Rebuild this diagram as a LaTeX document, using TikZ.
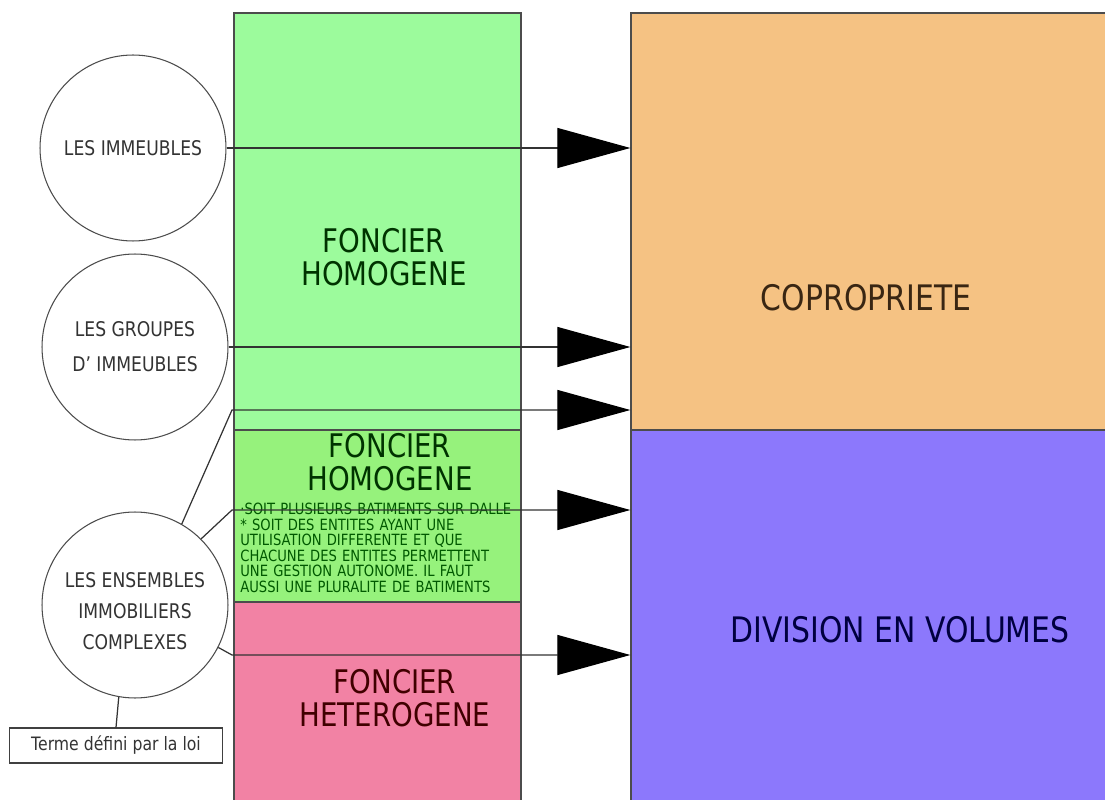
\documentclass[tikz,border=0pt]{standalone}
\usepackage{fontspec}
\setmainfont{DejaVu Sans}[FakeStretch=0.85]
\usetikzlibrary{arrows.meta, positioning, shapes.geometric}

\definecolor{homo}{HTML}{9CFB9C}
\definecolor{homobis}{HTML}{96F27C}
\definecolor{hetero}{HTML}{F282A4}
\definecolor{copro}{HTML}{F5C283}
\definecolor{volumes}{HTML}{8C78FC}

\tikzset{
  bloc/.style={draw=black!70, line width=0.8pt, rectangle, minimum width=5.74cm, inner sep=0pt},
  cercle/.style={draw=black!70, line width=0.6pt, circle, minimum size=3.72cm, inner sep=0pt, align=center, text=black!80, font=\fontsize{11.5}{20}\selectfont},
  titre/.style={align=center, font=\fontsize{18.5}{18.5}\selectfont},
  trait/.style={draw=black!80, line width=0.7pt},
  fleche/.style={trait, -{Triangle[length=1.46cm, width=0.8cm, color=black]}}
}

\begin{document}
\begin{tikzpicture}[x=0.02cm, y=-0.02cm]
\useasboundingbox (0,0) rectangle (1105,800);

% Colonne foncier
\node[bloc, fill=homo, minimum height=8.34cm] (homo) at (377.5,221.5) {};
\node[bloc, fill=homobis, minimum height=3.44cm] (homobis) at (377.5,516) {};
\node[bloc, fill=hetero, minimum height=4cm] (hetero) at (377.5,702) {};

% Regimes
\node[bloc, fill=copro, minimum width=9.52cm, minimum height=8.34cm] (copro) at (869,221.5) {};
\node[bloc, fill=volumes, minimum width=9.52cm, minimum height=7.44cm] (volumes) at (869,616) {};

% Textes des blocs
\node[titre, text=green!20!black] (homotxt) at (384,257) {FONCIER\\HOMOGENE};
\node[titre, text=green!20!black] (homobistxt) at (390,462) {FONCIER\\HOMOGENE};
\node[anchor=north west, text=green!35!black, text width=5.6cm, align=left,
      font=\fontsize{8.8}{8.8}\selectfont, inner sep=0pt] (criteres) at (240,503)
  {·SOIT PLUSIEURS BATIMENTS SUR DALLE\\
   {*} SOIT DES ENTITES AYANT UNE\\
   UTILISATION DIFFERENTE ET QUE\\
   CHACUNE DES ENTITES PERMETTENT\\
   UNE GESTION AUTONOME. IL FAUT\\
   AUSSI UNE PLURALITE DE BATIMENTS};
\node[titre, text=red!25!black] (heterotxt) at (395,698) {FONCIER\\HETEROGENE};
\node[titre, text=brown!30!black, font=\fontsize{20}{18}\selectfont] (coprotxt) at (866,298) {COPROPRIETE};
\node[titre, text=blue!25!black, font=\fontsize{20}{18}\selectfont] (volumestxt) at (900,630) {DIVISION EN VOLUMES};

% Cercles
\node[cercle] (imm) at (133,148) {LES IMMEUBLES};
\node[cercle] (grp) at (135,347) {LES GROUPES\\D' IMMEUBLES};
\node[cercle, font=\fontsize{11.5}{17.5}\selectfont] (ens) at (135,605) {\\[-2pt]LES ENSEMBLES\\IMMOBILIERS\\COMPLEXES};

\node[draw=black!75, line width=0.6pt, minimum width=4.26cm, minimum height=0.7cm,
      inner sep=0pt, text=black!80, font=\fontsize{10.5}{12}\selectfont] (terme) at (116,745.5) {Terme défini par la loi};

% Fleches
\coordinate (coude1) at (232,410);
\coordinate (coude2) at (232,510);
\coordinate (coude3) at (232,655);

\draw[fleche] (imm.east) -- (imm.east -| copro.west);
\draw[fleche] (grp.east) -- (grp.east -| copro.west);
\draw[fleche] (ens.60) -- (coude1) -- (coude1 -| copro.west);
\draw[fleche] (ens.45) -- (coude2) -- (coude2 -| volumes.west);
\draw[fleche] (ens.-27) -- (coude3) -- (coude3 -| volumes.west);
\draw[trait] (ens.-100) -- (terme.north);
\end{tikzpicture}
\end{document}
